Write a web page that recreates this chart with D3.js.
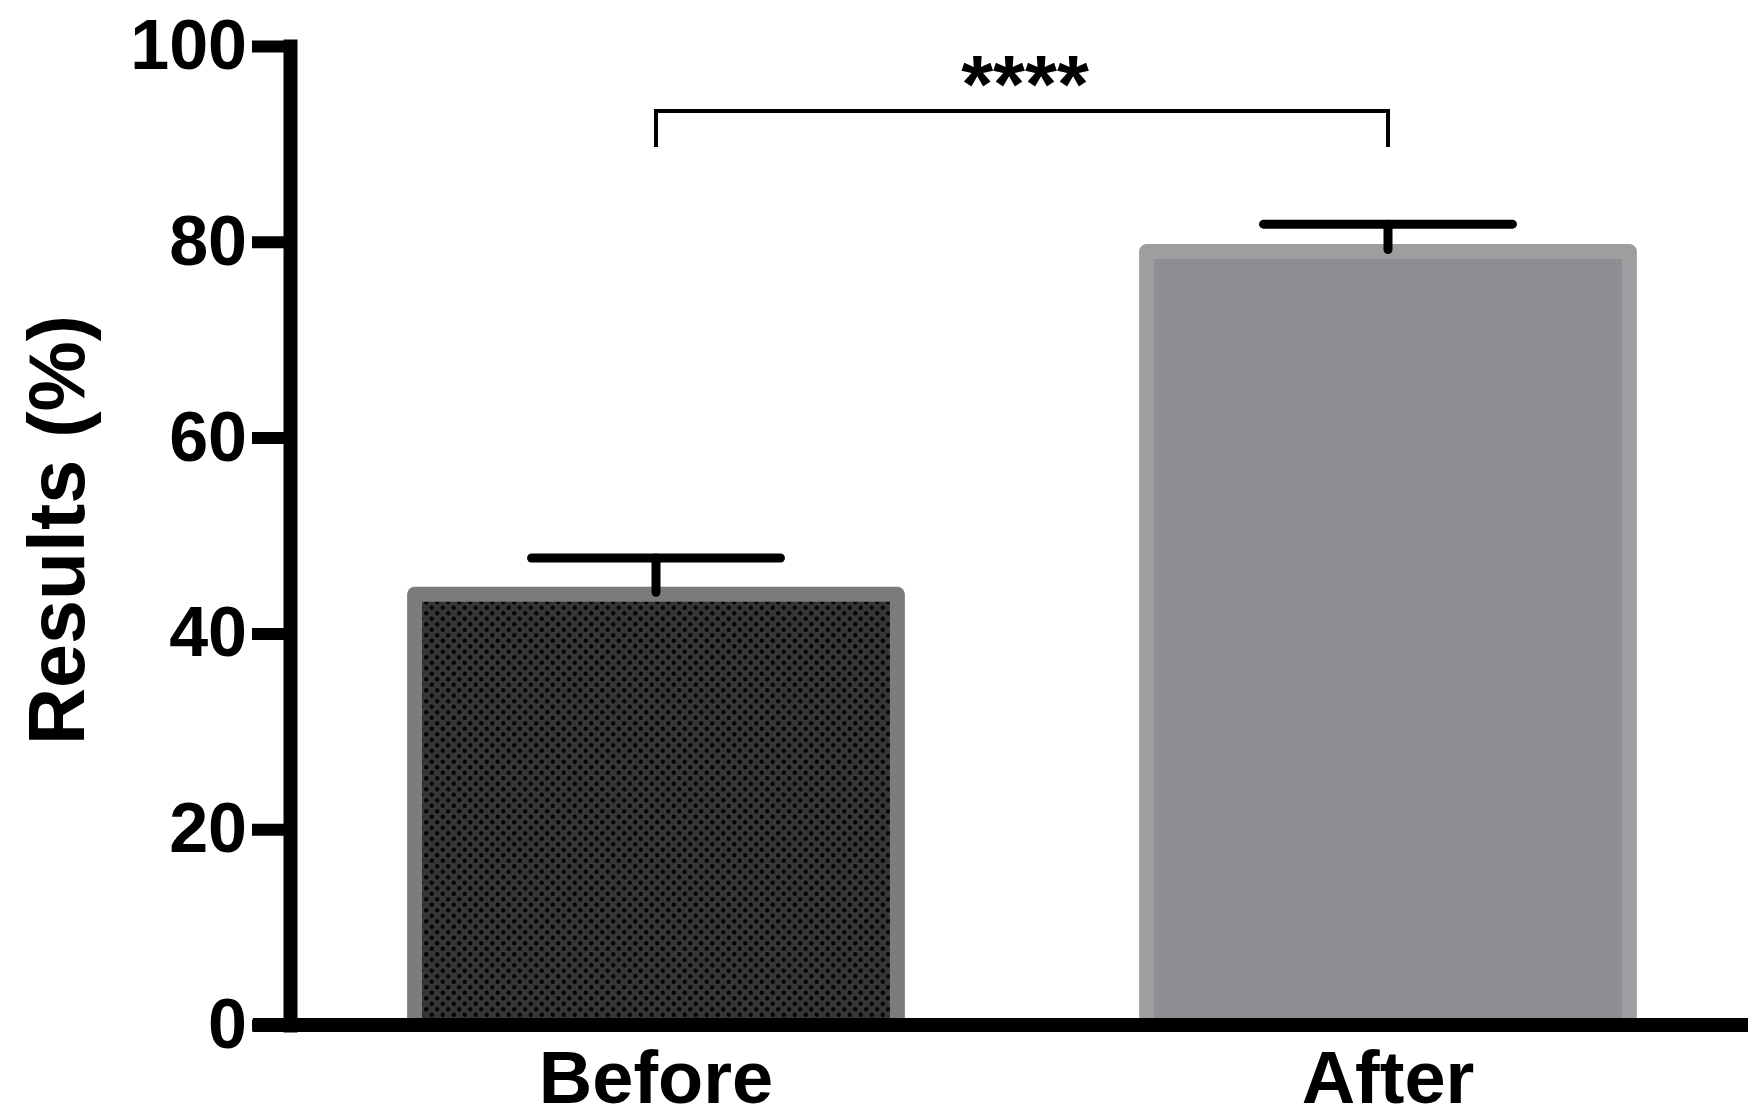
<!DOCTYPE html>
<html>
<head>
<meta charset="utf-8">
<script src="https://cdn.jsdelivr.net/npm/d3@7"></script>
<style>
html,body{margin:0;padding:0;background:#fff;}
svg{display:block;}
text{font-family:"Liberation Sans",Arial,Helvetica,sans-serif;font-weight:bold;fill:#000;}
</style>
</head>
<body>
<svg id="chart" width="1748" height="1119"></svg>
<script>
const categories = ["Before", "After"];
const means = [44, 79];
const errors = [3.7, 2.8];
const yTicks = [0, 20, 40, 60, 80, 100];
const yLabel = "Results (%)";
const sigLabel = "****";

const svg = d3.select("#chart");
const W = 1748, H = 1119;
const x0 = 290, yBase = 1025, yTop = 46;

const x = d3.scaleBand().domain(categories).range([x0, 1754]).paddingInner(0.32).paddingOuter(0.16);
const y = d3.scaleLinear().domain([0, 100]).range([yBase, yTop]);

// pattern for the Before bar
const defs = svg.append("defs");
const pat = defs.append("pattern").attr("id", "dots").attr("patternUnits", "userSpaceOnUse")
  .attr("width", 11).attr("height", 11);
pat.append("rect").attr("width", 11).attr("height", 11).attr("fill", "#363636");
pat.append("circle").attr("cx", 2.75).attr("cy", 2.75).attr("r", 2.2).attr("fill", "#050505");
pat.append("circle").attr("cx", 8.25).attr("cy", 8.25).attr("r", 2.2).attr("fill", "#050505");

const fills = ["url(#dots)", "#8e8d92"];
const strokes = ["#7c7c7c", "#9e9ea0"];
const bw = x.bandwidth();
const sw = 15;

// bar fills
svg.append("g").selectAll("rect").data(categories).join("rect")
  .attr("x", d => x(d) + sw / 2)
  .attr("width", bw - sw)
  .attr("y", (d, i) => y(means[i]))
  .attr("height", (d, i) => y(0) - y(means[i]))
  .attr("fill", (d, i) => fills[i]);

// bar borders (left, top, right)
svg.append("g").selectAll("path").data(categories).join("path")
  .attr("d", (d, i) => {
    const l = x(d) + sw / 2, r = x(d) + bw - sw / 2, t = y(means[i]);
    return `M${l},${y(0)}V${t}H${r}V${y(0)}`;
  })
  .attr("fill", "none")
  .attr("stroke", (d, i) => strokes[i])
  .attr("stroke-width", sw)
  .attr("stroke-linejoin", "round");

// error bars
const eb = svg.append("g").attr("stroke", "#000").attr("stroke-width", 9).attr("stroke-linecap", "round");
categories.forEach((c, i) => {
  const cx = x(c) + bw / 2;
  const yt = y(means[i] + errors[i]);
  eb.append("line").attr("x1", cx - bw / 4).attr("x2", cx + bw / 4).attr("y1", yt).attr("y2", yt);
  eb.append("line").attr("x1", cx).attr("x2", cx).attr("y1", yt).attr("y2", y(means[i]) - 2);
});

// y axis
const yAxis = d3.axisLeft(y).tickValues(yTicks).tickSize(38).tickPadding(5).tickSizeOuter(0);
const gy = svg.append("g").attr("transform", `translate(${x0},0)`).call(yAxis);
gy.select(".domain").attr("stroke", "#000").attr("stroke-width", 14).attr("stroke-linecap", "square");
gy.selectAll(".tick line").attr("stroke", "#000").attr("stroke-width", 12);
gy.selectAll(".tick text").style("font-size", "70px").style("font-family", "'Liberation Sans',Arial,sans-serif").style("font-weight", "bold").attr("fill", "#000");

// x axis line (full width)
svg.append("line").attr("x1", 253).attr("x2", W).attr("y1", yBase).attr("y2", yBase)
  .attr("stroke", "#000").attr("stroke-width", 14);

// x axis labels
const xAxis = d3.axisBottom(x).tickSize(0).tickPadding(0);
const gx = svg.append("g").attr("transform", `translate(0,${yBase})`).call(xAxis);
gx.select(".domain").remove();
gx.selectAll(".tick text").attr("y", 78).attr("dy", null)
  .style("font-size", "74px").style("font-family", "'Liberation Sans',Arial,sans-serif").style("font-weight", "bold").attr("fill", "#000");

// y label
svg.append("text")
  .attr("transform", `translate(84,530) rotate(-90)`)
  .attr("text-anchor", "middle")
  .style("font-size", "79px")
  .text(yLabel);

// significance bracket
const xa = x(categories[0]) + bw / 2, xb = x(categories[1]) + bw / 2;
const yBr = 111, yLeg = 147;
svg.append("path")
  .attr("d", `M${xa},${yLeg}V${yBr}H${xb}V${yLeg}`)
  .attr("fill", "none").attr("stroke", "#000").attr("stroke-width", 4);
svg.append("text")
  .attr("x", (xa + xb) / 2 + 3).attr("y", 112)
  .attr("text-anchor", "middle")
  .style("font-size", "82px")
  .text(sigLabel);
</script>
</body>
</html>
